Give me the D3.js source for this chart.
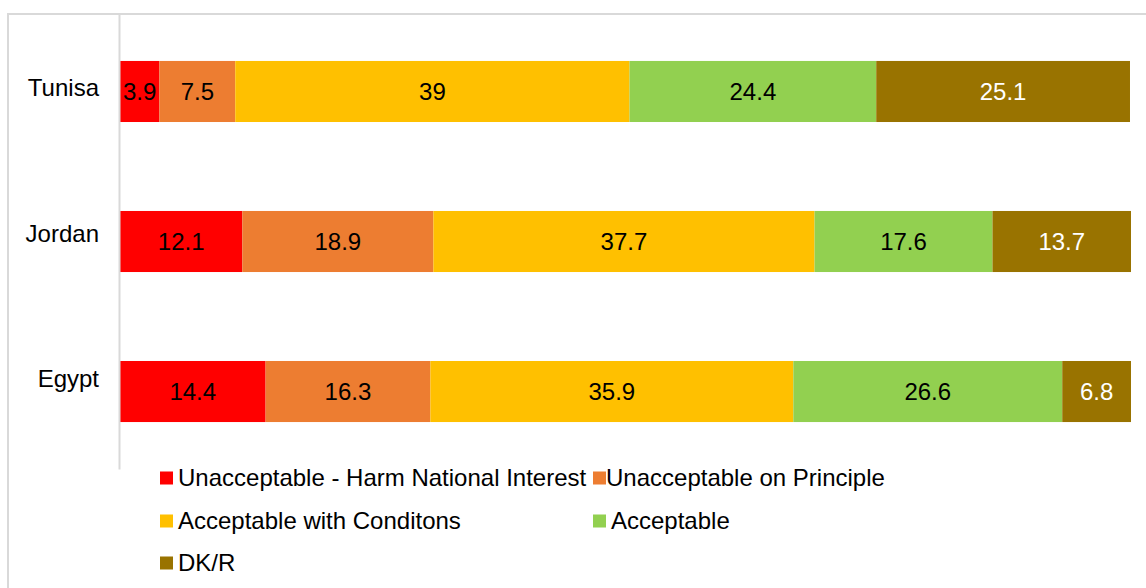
<!DOCTYPE html>
<meta charset="utf-8">
<style>
body { margin: 0; background: #fff; }
svg { font-family: "Liberation Sans", Arial, sans-serif; }
.frame { fill: none; stroke: #d9d9d9; stroke-width: 2px; }
.axis path { stroke: #d9d9d9; stroke-width: 2px; }
.axis line { display: none; }
</style>
<svg width="1146" height="588"></svg>
<script src="https://d3js.org/d3.v7.min.js"></script>
<script>
// categories, top to bottom
var countries = ["Tunisa", "Jordan", "Egypt"];
var seriesNames = [
  "Unacceptable - Harm National Interest",
  "Unacceptable on Principle",
  "Acceptable with Conditons",
  "Acceptable",
  "DK/R"
];
var seriesColors = ["#ff0000", "#ed7d31", "#ffc000", "#92d050", "#997300"];
var labelColors = ["#000", "#000", "#000", "#000", "#fff"];

// one array per series, in country order
var harmNational = [3.9, 12.1, 14.4];
var onPrinciple = [7.5, 18.9, 16.3];
var withConditions = [39, 37.7, 35.9];
var acceptable = [24.4, 17.6, 26.6];
var dkr = [25.1, 13.7, 6.8];

var seriesValues = [harmNational, onPrinciple, withConditions, acceptable, dkr];

var svg = d3.select("svg");

// outer chart border (runs off the right and bottom of the picture)
svg.append("rect")
    .attr("class", "frame")
    .attr("x", 8)
    .attr("y", 14)
    .attr("width", 1200)
    .attr("height", 700);

var x = d3.scaleLinear().domain([0, 100]).range([120, 1131]);

var y = d3.scaleBand()
    .domain(countries)
    .range([14, 469])
    .paddingInner(0.593)
    .paddingOuter(0.313);

// category labels sit a little above the bar centres in the original
var yLabel = d3.scalePoint().domain(countries).range([88, 379]);

// build rows for stacking
var rows = countries.map(function(c, i) {
  var r = { country: c };
  seriesNames.forEach(function(s, j) { r[s] = seriesValues[j][i]; });
  return r;
});

var stack = d3.stack().keys(seriesNames)(rows);

var layers = svg.append("g")
  .selectAll("g")
  .data(stack)
  .join("g")
    .attr("fill", function(d, i) { return seriesColors[i]; });

layers.selectAll("rect")
  .data(function(d) { return d; })
  .join("rect")
    .attr("x", function(d) { return x(d[0]); })
    .attr("y", function(d) { return y(d.data.country); })
    .attr("width", function(d) { return x(d[1]) - x(d[0]); })
    .attr("height", y.bandwidth());

// value labels in the middle of each segment
layers.each(function(layer, i) {
  d3.select(this).selectAll("text")
    .data(layer)
    .join("text")
      .attr("x", function(d) { return (x(d[0]) + x(d[1])) / 2; })
      .attr("y", function(d) { return y(d.data.country) + y.bandwidth() / 2; })
      .attr("dy", "0.35em")
      .attr("text-anchor", "middle")
      .attr("font-size", 24)
      .attr("fill", labelColors[i])
      .text(function(d) { return d.data[layer.key]; });
});

// vertical axis line, no ticks
svg.append("g")
    .attr("class", "axis")
    .attr("transform", "translate(119,0)")
    .call(d3.axisLeft(y).tickSize(0).tickSizeOuter(0).tickFormat(""));

svg.append("g")
  .selectAll("text")
  .data(countries)
  .join("text")
    .attr("x", 99)
    .attr("y", function(d) { return yLabel(d); })
    .attr("dy", "0.35em")
    .attr("text-anchor", "end")
    .attr("font-size", 24)
    .attr("fill", "#000")
    .text(function(d) { return d; });

// legend: two columns, three rows
var legendCols = [160, 593];
var legendRows = [478, 521, 563];

var legend = svg.append("g")
  .selectAll("g")
  .data(seriesNames)
  .join("g")
    .attr("transform", function(d, i) {
      return "translate(" + legendCols[i % 2] + "," + legendRows[Math.floor(i / 2)] + ")";
    });

legend.append("rect")
    .attr("x", 0)
    .attr("y", -6.5)
    .attr("width", 13)
    .attr("height", 13)
    .attr("fill", function(d, i) { return seriesColors[i]; });

legend.append("text")
    .attr("x", function(d, i) { return i === 1 ? 13 : 18; })
    .attr("y", 0)
    .attr("dy", "0.35em")
    .attr("font-size", 24)
    .attr("fill", "#000")
    .text(function(d) { return d; });
</script>
